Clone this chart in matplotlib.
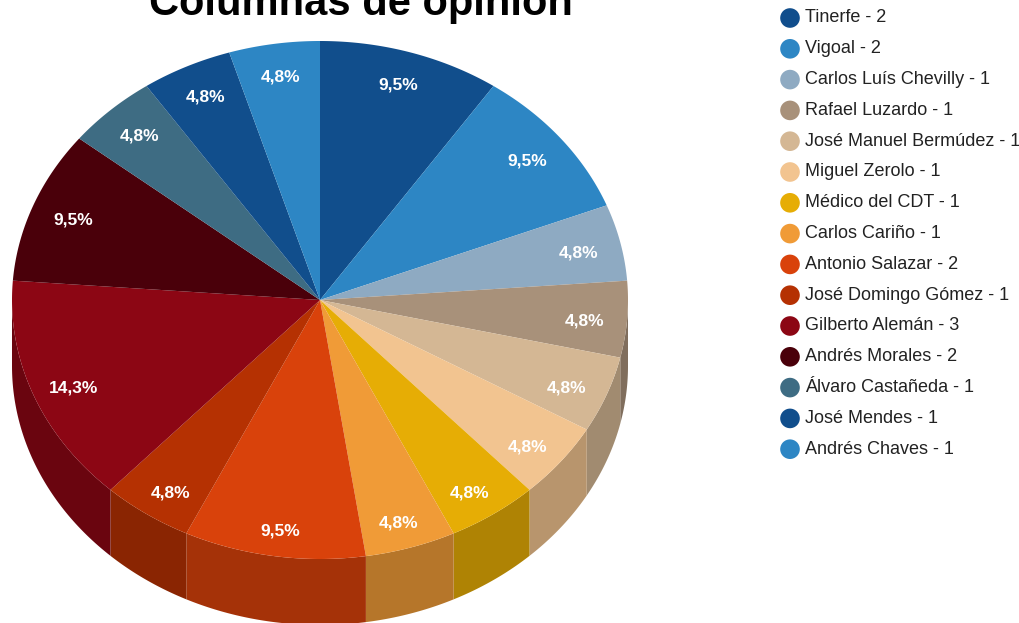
import numpy as np
import matplotlib.pyplot as plt
from matplotlib.patches import Polygon, Circle

# Data
names = ["Tinerfe", "Vigoal", "Carlos Luís Chevilly", "Rafael Luzardo",
         "José Manuel Bermúdez", "Miguel Zerolo", "Médico del CDT",
         "Carlos Cariño", "Antonio Salazar", "José Domingo Gómez",
         "Gilberto Alemán", "Andrés Morales", "Álvaro Castañeda",
         "José Mendes", "Andrés Chaves"]
values = [2, 2, 1, 1, 1, 1, 1, 1, 2, 1, 3, 2, 1, 1, 1]
colors = ["#114e8c", "#2d86c4", "#8eaac2", "#a8917a", "#d4b794",
          "#f2c490", "#e6ad05", "#f09b37", "#d9420b", "#b53102",
          "#8c0614", "#4a000a", "#3e6c83", "#114e8c", "#2d86c4"]
title = "Columnas de opinión"

# Geometry (pixels)
W, H = 1019, 623
cx, cy = 320, 300
rx, ry = 308, 259
depth = 66
shade = 0.76

fig = plt.figure(figsize=(W / 100, H / 100), dpi=100)
ax = fig.add_axes([0, 0, 1, 1])
ax.set_xlim(0, W)
ax.set_ylim(H, 0)
ax.axis('off')


def pt(theta, fx=1.0, fy=1.0, dy=0.0):
    # theta in degrees, clockwise from top
    t = np.radians(theta)
    return cx + rx * fx * np.sin(t), cy + dy - ry * fy * np.cos(t)


def darker(c, f):
    c = c.lstrip('#')
    rgb = [int(c[i:i + 2], 16) / 255 for i in (0, 2, 4)]
    return tuple(v * f for v in rgb)


total = sum(values)
bounds = np.concatenate([[0], np.cumsum(values)]) / total * 360

# side walls (front half: 90..270 deg)
for i in range(len(values)):
    a0, a1 = max(bounds[i], 90), min(bounds[i + 1], 270)
    if a1 <= a0:
        continue
    th = np.linspace(a0, a1, 60)
    xs, ys = pt(th)
    poly = list(zip(xs, ys)) + list(zip(xs[::-1], ys[::-1] + depth))
    ax.add_patch(Polygon(poly, closed=True, facecolor=darker(colors[i], shade),
                         edgecolor='none'))

# top faces
for i in range(len(values)):
    th = np.linspace(bounds[i], bounds[i + 1], 80)
    xs, ys = pt(th)
    poly = [(cx, cy)] + list(zip(xs, ys))
    ax.add_patch(Polygon(poly, closed=True, facecolor=colors[i],
                         edgecolor='none'))
    mid = (bounds[i] + bounds[i + 1]) / 2
    lx, ly = pt(mid, 0.86, 0.885, 4)
    pct = f"{values[i] / total * 100:.1f}%".replace('.', ',')
    ax.text(lx, ly, pct, ha='center', va='center', color='white',
            fontsize=12.5, fontweight='bold', family='Liberation Sans')

# title (cut off at the top, as in the original)
ax.text(361, 15, title, ha='center', va='baseline', fontsize=30,
        fontweight='bold', family='Liberation Sans', color='black')

# legend
for i, (n, v) in enumerate(zip(names, values)):
    y = 18 + i * 30.8
    ax.add_patch(Circle((790, y), 9.8, facecolor=colors[i], edgecolor='none'))
    ax.text(805, y, f"{n} - {v}", ha='left', va='center', fontsize=13,
            family='Liberation Sans', color='#222222')

fig.savefig('out.png', dpi=100)
